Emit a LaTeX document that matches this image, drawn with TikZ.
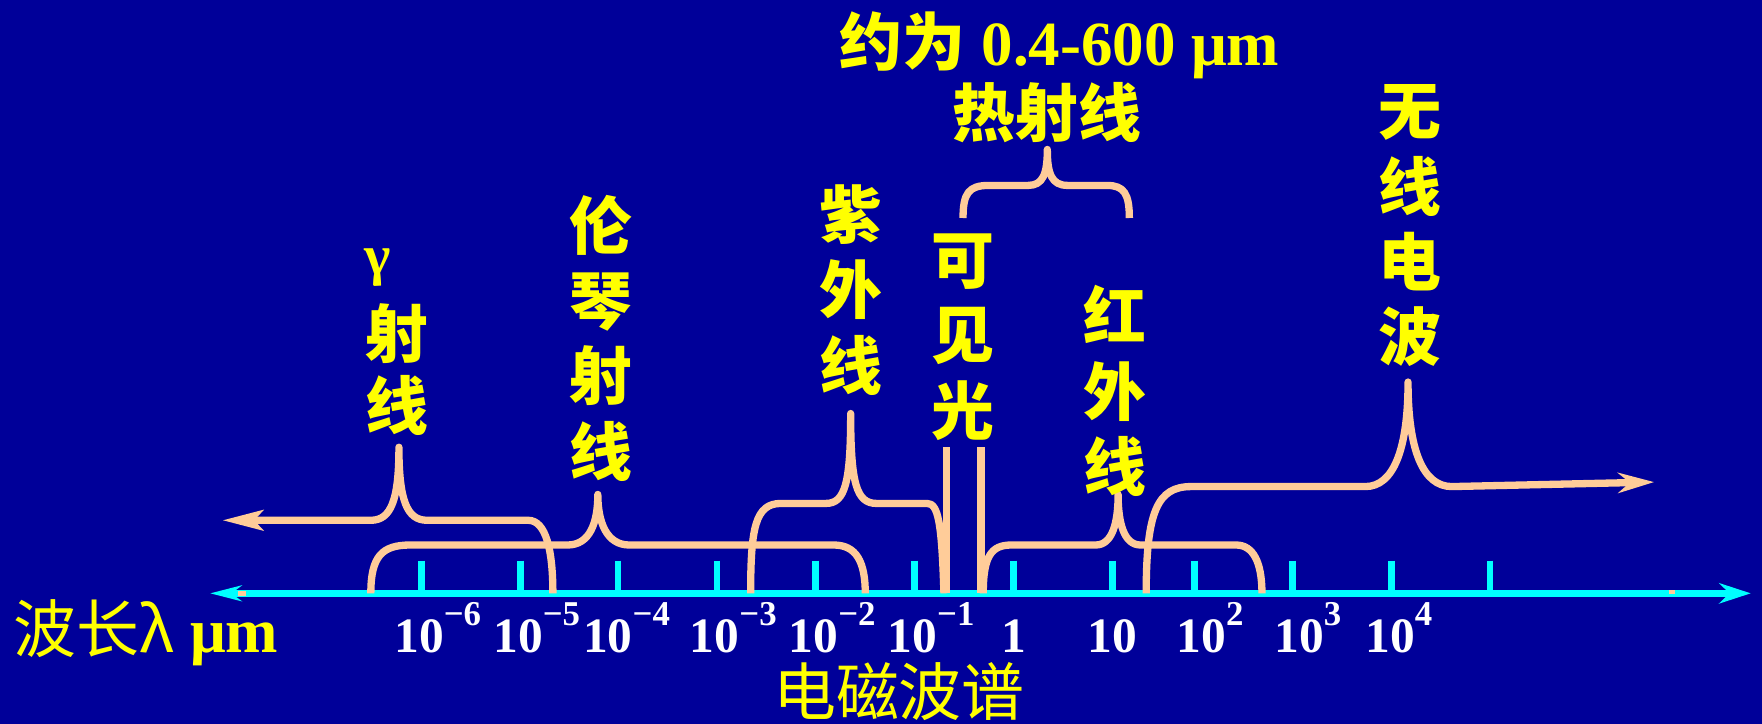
\documentclass[tikz,border=0pt]{standalone}
\usepackage{fontspec}
\setmainfont{Liberation Serif}
\newfontfamily\cjk{Noto Sans CJK SC}
\usetikzlibrary{arrows.meta}
\definecolor{bgblue}{RGB}{0,0,153}
\definecolor{peach}{RGB}{255,204,153}
\definecolor{axiscyan}{RGB}{0,255,255}
\definecolor{labyellow}{RGB}{255,255,0}
\newcommand\pw[1]{10\rlap{\raisebox{24pt}{\fontsize{31}{31}\selectfont #1}}}
\begin{document}
\begin{tikzpicture}[x=1pt,y=-1pt,
  brace/.style={draw=peach,line width=6.5pt,line join=round},
  axisline/.style={draw=axiscyan,line width=6.5pt},
  tickmark/.style={draw=axiscyan,line width=6pt},
  band/.style={text=labyellow,font=\fontsize{56}{67}\selectfont\cjk\bfseries,align=center,inner sep=0pt},
  num/.style={text=white,font=\fontsize{44}{44}\selectfont\bfseries,inner sep=0pt,anchor=base},
]
\useasboundingbox (0,0) rectangle (1568,644);
\fill[bgblue] (0,0) rectangle (1568,644);

% axis
\draw[axisline,{Stealth[length=28pt,width=14pt]}-{Stealth[length=28pt,width=18pt]}] (187,528) -- (1558,528);
\foreach \x in {375,463,550,638,726,814,902,990,1063,1150,1238,1326}
  \draw[tickmark] (\x,499) -- (\x,528);
\fill[peach] (212,526) rectangle (219,530);
\fill[peach] (1485,525) rectangle (1491,529);

% numbers
\node[num] (n6) at (373,581) {\pw{−6}};
\node[num] (n5) at (461,581) {\pw{−5}};
\node[num] (n4) at (541,581) {\pw{−4}};
\node[num] (n3) at (636,581) {\pw{−3}};
\node[num] (n2) at (724,581) {\pw{−2}};
\node[num] (n1) at (812,581) {\pw{−1}};
\node[num] (p0) at (902,581) {1};
\node[num] (p1) at (990,581) {10};
\node[num] (p2) at (1069,581) {\pw{2}};
\node[num] (p3) at (1156,581) {\pw{3}};
\node[num] (p4) at (1237,581) {\pw{4}};

% axis label and title
\node[text=labyellow,inner sep=0pt,anchor=west] (axlab) at (12,563)
  {\fontsize{56}{56}\selectfont{\cjk 波长λ} {\bfseries μm}};
\node[text=labyellow,inner sep=0pt] (title) at (800,615)
  {\fontsize{56}{56}\selectfont\cjk 电磁波谱};

% braces
\draw[brace,{Stealth[length=36pt,width=18pt,inset=8pt]}-] (198,463) -- (330,463)
  .. controls (348,463) and (355,445) .. (355,398)
  .. controls (355,445) and (362,463) .. (380,463) -- (470,463)
  .. controls (486,463) and (492,490) .. (492,528);

\draw[brace] (330,528) .. controls (330,495) and (340,485) .. (365,485) -- (505,485)
  .. controls (525,485) and (532,465) .. (532,440)
  .. controls (532,465) and (540,485) .. (560,485) -- (742,485)
  .. controls (762,485) and (770,500) .. (770,528);

\draw[brace] (668,528) .. controls (668,470) and (672,448) .. (695,448) -- (735,448)
  .. controls (752,448) and (757,430) .. (757,368)
  .. controls (757,430) and (762,448) .. (780,448) -- (825,448)
  .. controls (835,448) and (838,465) .. (840,528);

\draw[brace] (842,398) -- (842,528);
\draw[brace] (873,398) -- (873,528);

\draw[brace] (875,528) .. controls (875,495) and (882,485) .. (900,485) -- (975,485)
  .. controls (990,485) and (995,465) .. (995,440)
  .. controls (995,465) and (1000,485) .. (1015,485) -- (1100,485)
  .. controls (1115,485) and (1123,500) .. (1123,528);

\draw[brace] (857,194) .. controls (857,172) and (862,165) .. (880,165) -- (915,165)
  .. controls (928,165) and (932,155) .. (932,133)
  .. controls (932,155) and (936,165) .. (950,165) -- (985,165)
  .. controls (1000,165) and (1005,172) .. (1005,194);

\draw[brace,-{Stealth[length=32pt,width=18pt]}] (1020,528)
  .. controls (1020,455) and (1030,433) .. (1060,433) -- (1215,433)
  .. controls (1240,433) and (1253,400) .. (1253,340)
  .. controls (1253,400) and (1266,433) .. (1292,433) -- (1472,429);

% band labels
\node[text=labyellow,inner sep=0pt,anchor=base,font=\fontsize{50}{50}\selectfont\bfseries] (gam) at (336,244) {γ};
\node[band,font=\fontsize{56}{64}\selectfont\cjk\bfseries] (gray) at (353,329) {射\\线};
\node[band] (xray) at (535,301) {伦\\琴\\射\\线};
\node[band] (uv) at (757,258) {紫\\外\\线};
\node[band] (vis) at (857,300) {可\\见\\光};
\node[band] (ir) at (992,348) {红\\外\\线};
\node[band] (radio) at (1255,201) {无\\线\\电\\波};
\node[band] (heat) at (932,100) {热射线};
\node[text=labyellow,inner sep=0pt] (range) at (943,40)
  {\fontsize{56}{56}\selectfont{\cjk\bfseries 约为} {\bfseries 0.4-600 μm}};
\end{tikzpicture}
\end{document}
